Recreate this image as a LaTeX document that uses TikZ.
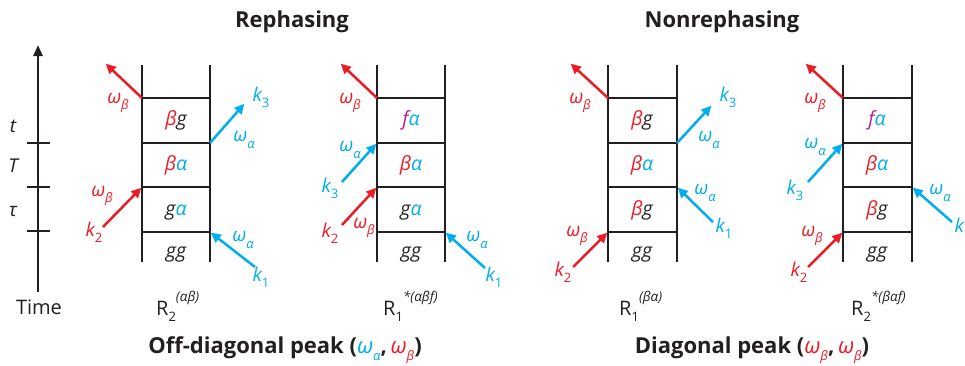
\documentclass[tikz,border=0pt]{standalone}
\usepackage{fontspec}
\setmainfont{Open Sans}
\usetikzlibrary{arrows.meta}
\definecolor{cred}{RGB}{237,28,36}
\definecolor{cblue}{RGB}{0,174,239}
\definecolor{cmag}{RGB}{185,30,145}
\definecolor{cink}{RGB}{35,31,32}
\newcommand\sbs[1]{\raisebox{-0.33em}{\fontsize{13}{13}\selectfont #1}}
\newcommand\sbd[1]{\raisebox{-0.33em}{\fontsize{13}{13}\selectfont\upshape #1}}
\newcommand\sps[1]{\raisebox{0.7em}{\fontsize{13.5}{13.5}\selectfont\itshape #1}}
\newcommand\ladder[3]{%
  \coordinate (#1-lt) at (#2,65); \coordinate (#1-lb) at (#2,262);
  \coordinate (#1-rt) at (#3,65); \coordinate (#1-rb) at (#3,262);
  \coordinate (#1-l1) at (#2,232); \coordinate (#1-r1) at (#3,232);
  \coordinate (#1-l2) at (#2,187); \coordinate (#1-r2) at (#3,187);
  \coordinate (#1-l3) at (#2,143); \coordinate (#1-r3) at (#3,143);
  \coordinate (#1-l4) at (#2,98);  \coordinate (#1-r4) at (#3,98);
  \draw[rung] (#1-l1) -- (#1-r1);
  \draw[rung] (#1-l2) -- (#1-r2);
  \draw[rung] (#1-l3) -- (#1-r3);
  \draw[rung] (#1-l4) -- (#1-r4);
  \draw[rail] (#1-lt) -- (#1-lb);
  \draw[rail] (#1-rt) -- (#1-rb);
}
\begin{document}
\begin{tikzpicture}[x=1pt,y=-1pt,
  rail/.style={line width=2.8pt,draw=cink},
  rung/.style={line width=2.6pt,draw=cink},
  beam/.style={line width=2.5pt,-{Triangle[length=10pt,width=9.5pt]},shorten >=1pt},
  lab/.style={inner sep=0pt,font=\fontsize{19}{19}\selectfont\itshape},
  cellt/.style={inner sep=0pt,anchor=base,font=\fontsize{19.5}{19.5}\selectfont\itshape,text=cink},
  title/.style={inner sep=0pt,font=\fontsize{22}{22}\selectfont\bfseries,text=cink},
  rl/.style={inner sep=0pt,anchor=base west,font=\fontsize{20}{20}\selectfont,text=cink},
  tick/.style={line width=2.6pt,draw=cink}]
\useasboundingbox (0,0) rectangle (965,365);

% titles
\node[title] (reph) at (292,22) {Rephasing};
\node[title] (nonreph) at (722,22) {Nonrephasing};

% time axis
\coordinate (tb) at (38,292);
\coordinate (tt) at (38,45);
\draw[line width=2.5pt,draw=cink,-{Triangle[length=11pt,width=9pt]}] (tb) -- (tt);
\coordinate (k1a) at (27,143); \coordinate (k1b) at (50,143);
\coordinate (k2a) at (27,187); \coordinate (k2b) at (50,187);
\coordinate (k3a) at (27,231); \coordinate (k3b) at (50,231);
\draw[tick] (k1a) -- (k1b);
\draw[tick] (k2a) -- (k2b);
\draw[tick] (k3a) -- (k3b);
\node[lab,text=cink] (tl) at (13,126) {t};
\node[lab,text=cink] (Tl) at (13,166) {T};
\node[lab,text=cink] (taul) at (13,212) {τ};
\node[inner sep=0pt,font=\fontsize{20}{20}\selectfont,text=cink] (timel) at (39,307) {Time};

% ===== diagram 1 =====
\ladder{d1}{142}{210}
\node[cellt] (d1-c4) at (176,125) {\textcolor{cred}{β}g};
\node[cellt] (d1-c3) at (176,170) {\textcolor{cred}{β}\textcolor{cblue}{α}};
\node[cellt] (d1-c2) at (176,215) {g\textcolor{cblue}{α}};
\node[cellt] (d1-c1) at (176,257) {gg};
\coordinate (d1-o) at (105,63);
\coordinate (d1-k3e) at (245,103);
\coordinate (d1-k2s) at (103,227);
\coordinate (d1-k1s) at (255,267);
\draw[beam,cred] (d1-l4) -- (d1-o);
\draw[beam,cblue] (d1-r3) -- (d1-k3e);
\draw[beam,cred] (d1-k2s) -- (d1-l2);
\draw[beam,cblue] (d1-k1s) -- (d1-r1);
\node[lab,text=cred] (d1-wo) at (118,103) {ω\sbs{β}};
\node[lab,text=cblue] (d1-k3) at (261,97) {k\sbd{3}};
\node[lab,text=cblue] (d1-w3) at (244,140) {ω\sbs{α}};
\node[lab,text=cred] (d1-k2) at (94,232) {k\sbd{2}};
\node[lab,text=cred] (d1-w2) at (102,196) {ω\sbs{β}};
\node[lab,text=cblue] (d1-k1) at (261,277) {k\sbd{1}};
\node[lab,text=cblue] (d1-w1) at (243,240) {ω\sbs{α}};
\node[rl] (d1-R) at (156,315) {R\sbd{2}\sps{(αβ)}};

% ===== diagram 2 =====
\ladder{d2}{377}{445}
\node[cellt] (d2-c4) at (411,125) {\textcolor{cmag}{f}\textcolor{cblue}{α}};
\node[cellt] (d2-c3) at (411,170) {\textcolor{cred}{β}\textcolor{cblue}{α}};
\node[cellt] (d2-c2) at (411,215) {g\textcolor{cblue}{α}};
\node[cellt] (d2-c1) at (411,257) {gg};
\coordinate (d2-o) at (340,63);
\coordinate (d2-k3s) at (342,182);
\coordinate (d2-k2s) at (342,225);
\coordinate (d2-k1s) at (485,268);
\draw[beam,cred] (d2-l4) -- (d2-o);
\draw[beam,cblue] (d2-k3s) -- (d2-l3);
\draw[beam,cred] (d2-k2s) -- (d2-l2);
\draw[beam,cblue] (d2-k1s) -- (d2-r1);
\node[lab,text=cred] (d2-wo) at (350,103) {ω\sbs{β}};
\node[lab,text=cblue] (d2-k3) at (330,188) {k\sbd{3}};
\node[lab,text=cblue] (d2-w3) at (350,150) {ω\sbs{α}};
\node[lab,text=cred] (d2-k2) at (330,233) {k\sbd{2}};
\node[lab,text=cred] (d2-w2) at (364,228) {ω\sbs{β}};
\node[lab,text=cblue] (d2-k1) at (494,277) {k\sbd{1}};
\node[lab,text=cblue] (d2-w1) at (477,240) {ω\sbs{α}};
\node[rl] (d2-R) at (383,315) {R\sbd{1}\sps{*(αβf)}};

% ===== diagram 3 =====
\ladder{d3}{608}{677}
\node[cellt] (d3-c4) at (642,125) {\textcolor{cred}{β}g};
\node[cellt] (d3-c3) at (642,170) {\textcolor{cred}{β}\textcolor{cblue}{α}};
\node[cellt] (d3-c2) at (642,215) {\textcolor{cred}{β}g};
\node[cellt] (d3-c1) at (642,257) {gg};
\coordinate (d3-o) at (570,63);
\coordinate (d3-k3e) at (712,105);
\coordinate (d3-k1s) at (713,222);
\coordinate (d3-k2s) at (573,267);
\draw[beam,cred] (d3-l4) -- (d3-o);
\draw[beam,cblue] (d3-r3) -- (d3-k3e);
\draw[beam,cblue] (d3-k1s) -- (d3-r2);
\draw[beam,cred] (d3-k2s) -- (d3-l1);
\node[lab,text=cred] (d3-wo) at (580,103) {ω\sbs{β}};
\node[lab,text=cblue] (d3-k3) at (728,97) {k\sbd{3}};
\node[lab,text=cblue] (d3-w3) at (709,140) {ω\sbs{α}};
\node[lab,text=cblue] (d3-k1) at (724,228) {k\sbd{1}};
\node[lab,text=cblue] (d3-w1) at (705,193) {ω\sbs{α}};
\node[lab,text=cred] (d3-k2) at (563,272) {k\sbd{2}};
\node[lab,text=cred] (d3-w2) at (577,236) {ω\sbs{β}};
\node[rl] (d3-R) at (619,315) {R\sbd{1}\sps{(βα)}};

% ===== diagram 4 =====
\ladder{d4}{843}{912}
\node[cellt] (d4-c4) at (877,125) {\textcolor{cmag}{f}\textcolor{cblue}{α}};
\node[cellt] (d4-c3) at (877,170) {\textcolor{cred}{β}\textcolor{cblue}{α}};
\node[cellt] (d4-c2) at (877,215) {\textcolor{cred}{β}g};
\node[cellt] (d4-c1) at (877,257) {gg};
\coordinate (d4-o) at (805,63);
\coordinate (d4-k3s) at (808,182);
\coordinate (d4-k1s) at (952,222);
\coordinate (d4-k2s) at (808,267);
\draw[beam,cred] (d4-l4) -- (d4-o);
\draw[beam,cblue] (d4-k3s) -- (d4-l3);
\draw[beam,cblue] (d4-k1s) -- (d4-r2);
\draw[beam,cred] (d4-k2s) -- (d4-l1);
\node[lab,text=cred] (d4-wo) at (815,103) {ω\sbs{β}};
\node[lab,text=cblue] (d4-k3) at (795,190) {k\sbd{3}};
\node[lab,text=cblue] (d4-w3) at (815,147) {ω\sbs{α}};
\node[lab,text=cblue] (d4-k1) at (963,228) {k\sbd{1}};
\node[lab,text=cblue] (d4-w1) at (940,193) {ω\sbs{α}};
\node[lab,text=cred] (d4-k2) at (799,272) {k\sbd{2}};
\node[lab,text=cred] (d4-w2) at (812,236) {ω\sbs{β}};
\node[rl] (d4-R) at (851,315) {R\sbd{2}\sps{*(βαf)}};

% bottom captions
\node[title] (offd) at (285,350) {Off-diagonal peak (\textcolor{cblue}{\mdseries\itshape ω\sbs{α}},\,\textcolor{cred}{\mdseries\itshape ω\sbs{β}})};
\node[title] (diag) at (752,350) {Diagonal peak (\textcolor{cred}{\mdseries\itshape ω\sbs{β}},\,\textcolor{cred}{\mdseries\itshape ω\sbs{β}})};
\end{tikzpicture}
\end{document}
